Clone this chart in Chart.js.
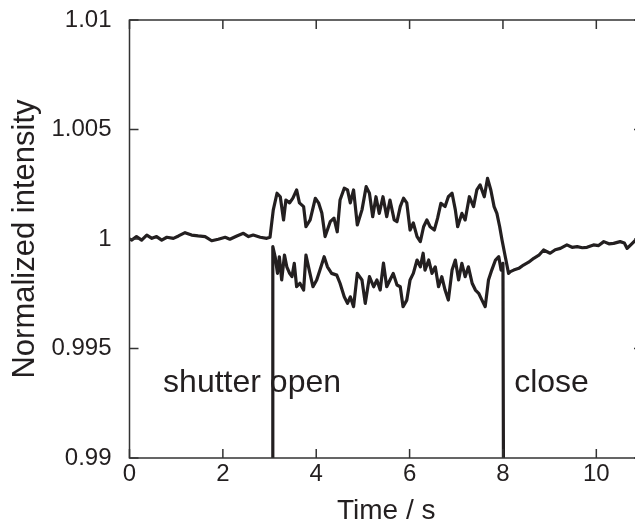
<!DOCTYPE html>
<html>
<head>
<meta charset="utf-8">
<script src="https://cdn.jsdelivr.net/npm/chart.js@4/dist/chart.umd.min.js"></script>
<style>
    html, body { margin: 0; padding: 0; background: #fff; overflow: hidden; }
    #wrap { position: relative; width: 643px; height: 528px; }
</style>
</head>
<body>
<div id="wrap"><canvas id="grafico"></canvas></div>
<script>
// tick values / labels
const xTicks = [0, 2, 4, 6, 8, 10];
const yTicks = [0.99, 0.995, 1, 1.005, 1.01];
const yTickLabels = ['0.99', '0.995', '1', '1.005', '1.01'];

// before the shutter opens
const baseT = [0, 0.05, 0.15, 0.26, 0.37, 0.48, 0.58, 0.69, 0.80, 0.94, 1.05, 1.19, 1.33, 1.47, 1.62, 1.76, 1.90, 2.05, 2.15, 2.30, 2.44, 2.55, 2.65, 2.80, 2.94, 3.01];
const baseI = [1.00000, 0.99995, 1.00011, 0.99995, 1.00018, 1.00003, 1.00011, 0.99995, 1.00008, 1.00003, 1.00014, 1.00029, 1.00018, 1.00014, 1.00011, 0.99992, 0.99999, 1.00008, 0.99999, 1.00014, 1.00026, 1.00011, 1.00018, 1.00008, 1.00003, 1.00008];

// upper trace, shutter open
const upperT = [3.08, 3.16, 3.23, 3.30, 3.35, 3.43, 3.50, 3.58, 3.64, 3.73, 3.78, 3.87, 3.98, 4.05, 4.12, 4.19, 4.30, 4.38, 4.45, 4.51, 4.60, 4.67, 4.73, 4.80, 4.88, 4.98, 5.07, 5.14, 5.21, 5.28, 5.35, 5.43, 5.51, 5.58, 5.67, 5.73, 5.80, 5.87, 5.94, 6.01, 6.08, 6.16, 6.23, 6.30, 6.37, 6.44, 6.53, 6.60, 6.67, 6.76, 6.83, 6.91, 6.98, 7.03, 7.12, 7.19, 7.28, 7.37, 7.44, 7.51, 7.60, 7.67, 7.74, 7.81, 7.87, 7.93, 7.98, 8.05, 8.12];
const upperI = [1.00133, 1.00209, 1.00193, 1.00087, 1.00178, 1.00165, 1.00187, 1.00224, 1.00165, 1.00148, 1.00056, 1.00087, 1.00186, 1.00165, 1.00119, 1.00011, 1.00079, 1.00095, 1.00033, 1.00178, 1.00232, 1.00224, 1.00165, 1.00224, 1.00064, 1.00133, 1.00239, 1.00209, 1.00102, 1.00193, 1.00117, 1.00193, 1.00102, 1.00178, 1.00087, 1.00079, 1.00148, 1.00186, 1.00165, 1.00041, 1.00073, 1.00011, 0.99988, 1.00056, 1.00087, 1.00056, 1.00041, 1.00095, 1.00163, 1.00148, 1.00193, 1.00209, 1.00133, 1.00056, 1.00117, 1.00087, 1.00193, 1.00148, 1.00224, 1.00247, 1.00193, 1.00277, 1.00224, 1.00148, 1.00117, 1.00056, 0.99995, 0.99919, 0.99843];

// after the shutter closes
const afterT = [8.16, 8.23, 8.34, 8.44, 8.55, 8.66, 8.77, 8.87, 9.01, 9.12, 9.23, 9.37, 9.48, 9.59, 9.70, 9.80, 9.94, 10.05, 10.16, 10.27, 10.37, 10.51, 10.60, 10.66, 10.77, 10.84];
const afterI = [0.99851, 0.99858, 0.99866, 0.99881, 0.99894, 0.99912, 0.99926, 0.99950, 0.99935, 0.99951, 0.99957, 0.99973, 0.99962, 0.99965, 0.99960, 0.99962, 0.99973, 0.99970, 0.99988, 0.99978, 0.99980, 0.99988, 0.99982, 0.99957, 0.99980, 0.99995];

// lower trace, shutter open (starts and ends on the axis)
const lowerT = [3.07, 3.07, 3.12, 3.17, 3.21, 3.26, 3.32, 3.37, 3.43, 3.48, 3.53, 3.58, 3.65, 3.73, 3.78, 3.85, 3.93, 4.01, 4.08, 4.17, 4.24, 4.33, 4.44, 4.51, 4.60, 4.67, 4.73, 4.80, 4.88, 4.98, 5.05, 5.14, 5.23, 5.30, 5.37, 5.44, 5.51, 5.58, 5.65, 5.73, 5.80, 5.86, 5.94, 6.01, 6.08, 6.16, 6.23, 6.29, 6.33, 6.41, 6.48, 6.55, 6.62, 6.69, 6.76, 6.83, 6.91, 6.98, 7.05, 7.12, 7.19, 7.26, 7.34, 7.41, 7.48, 7.55, 7.62, 7.69, 7.76, 7.84, 7.91, 7.96, 8.00, 8.01];
const lowerI = [0.99, 0.99965, 0.99919, 0.99843, 0.99919, 0.99813, 0.99927, 0.99873, 0.99843, 0.99828, 0.99889, 0.99782, 0.99798, 0.99767, 0.99927, 0.99858, 0.99782, 0.99813, 0.99858, 0.99919, 0.99873, 0.99843, 0.99835, 0.99798, 0.99736, 0.99706, 0.99736, 0.99691, 0.99843, 0.99813, 0.99706, 0.99828, 0.99782, 0.99813, 0.99767, 0.99890, 0.99782, 0.99813, 0.99843, 0.99790, 0.99782, 0.99691, 0.99721, 0.99813, 0.99843, 0.99904, 0.99873, 0.99935, 0.99858, 0.99904, 0.99843, 0.99873, 0.99782, 0.99828, 0.99767, 0.99721, 0.99858, 0.99904, 0.99813, 0.99889, 0.99828, 0.99873, 0.99798, 0.99767, 0.99752, 0.99721, 0.99691, 0.99813, 0.99858, 0.99904, 0.99919, 0.99858, 0.99889, 0.99];

const corTexto = '#231f20';
const fonte = "'Liberation Sans', Arial, sans-serif";

function pontos(ts, vs) {
    return ts.map((t, i) => ({ x: t, y: vs[i] }));
}

const tracoSuperior = [].concat(pontos(baseT, baseI), pontos(upperT, upperI), pontos(afterT, afterI));
const tracoInferior = pontos(lowerT, lowerI);

// frame on all four sides, ticks pointing inward, labels in the plot
const molduraPlugin = {
    id: 'moldura',
    afterDraw(chart) {
        const ctx = chart.ctx;
        const area = chart.chartArea;
        const sx = chart.scales.x;
        const sy = chart.scales.y;
        const len = 9;

        ctx.save();
        ctx.strokeStyle = '#333';
        ctx.lineWidth = 1.5;
        ctx.strokeRect(area.left, area.top, area.right - area.left, area.bottom - area.top);

        ctx.beginPath();
        xTicks.forEach(v => {
            const px = sx.getPixelForValue(v);
            ctx.moveTo(px, area.bottom);
            ctx.lineTo(px, area.bottom - len);
            ctx.moveTo(px, area.top);
            ctx.lineTo(px, area.top + len);
        });
        yTicks.forEach(v => {
            const py = sy.getPixelForValue(v);
            ctx.moveTo(area.left, py);
            ctx.lineTo(area.left + len, py);
            ctx.moveTo(area.right, py);
            ctx.lineTo(area.right - len, py);
        });
        ctx.stroke();

        ctx.fillStyle = corTexto;
        ctx.font = '32px ' + fonte;
        ctx.textBaseline = 'middle';
        ctx.textAlign = 'left';
        ctx.fillText('shutter open', sx.getPixelForValue(0.72), sy.getPixelForValue(0.99342));
        ctx.fillText('close', sx.getPixelForValue(8.24), sy.getPixelForValue(0.99342));
        ctx.restore();
    }
};

const ctx = document.getElementById('grafico').getContext('2d');
new Chart(ctx, {
    type: 'scatter',
    data: {
        datasets: [{
            data: tracoSuperior,
            showLine: true,
            borderColor: corTexto,
            borderWidth: 3.2,
            borderJoinStyle: 'round',
            pointRadius: 0,
            tension: 0
        }, {
            data: tracoInferior,
            showLine: true,
            borderColor: corTexto,
            borderWidth: 3.2,
            borderJoinStyle: 'round',
            pointRadius: 0,
            tension: 0
        }]
    },
    options: {
        responsive: true,
        maintainAspectRatio: false,
        animation: false,
        layout: { padding: { top: 20, left: 0, right: 0, bottom: 0 } },
        plugins: {
            legend: { display: false },
            tooltip: { enabled: false }
        },
        scales: {
            x: {
                type: 'linear',
                min: 0,
                max: 11,
                afterBuildTicks: scale => { scale.ticks = xTicks.map(v => ({ value: v })); },
                afterFit: scale => {
                    scale.height = 70;
                    scale.paddingLeft = 0;
                    scale.paddingRight = 0;
                },
                grid: { display: false, drawTicks: false },
                border: { display: false },
                ticks: {
                    color: corTexto,
                    font: { family: fonte, size: 24 },
                    padding: 2,
                    maxRotation: 0,
                    autoSkip: false
                },
                title: {
                    display: true,
                    text: 'Time / s',
                    color: corTexto,
                    font: { family: fonte, size: 28 },
                    padding: { top: 0, bottom: 0 }
                }
            },
            y: {
                type: 'linear',
                min: 0.99,
                max: 1.01,
                afterBuildTicks: scale => { scale.ticks = yTicks.map(v => ({ value: v })); },
                afterFit: scale => {
                    scale.width = 129.5;
                    scale.paddingTop = 0;
                    scale.paddingBottom = 0;
                },
                grid: { display: false, drawTicks: false },
                border: { display: false },
                ticks: {
                    color: corTexto,
                    font: { family: fonte, size: 24 },
                    padding: 18,
                    autoSkip: false,
                    callback: (value) => {
                        const i = yTicks.findIndex(t => Math.abs(t - value) < 1e-9);
                        return i >= 0 ? yTickLabels[i] : '';
                    }
                },
                title: {
                    display: true,
                    text: 'Normalized intensity',
                    color: corTexto,
                    font: { family: fonte, size: 31 },
                    padding: { top: 7, bottom: 0 }
                }
            }
        }
    },
    plugins: [molduraPlugin]
});
</script>
</body>
</html>
